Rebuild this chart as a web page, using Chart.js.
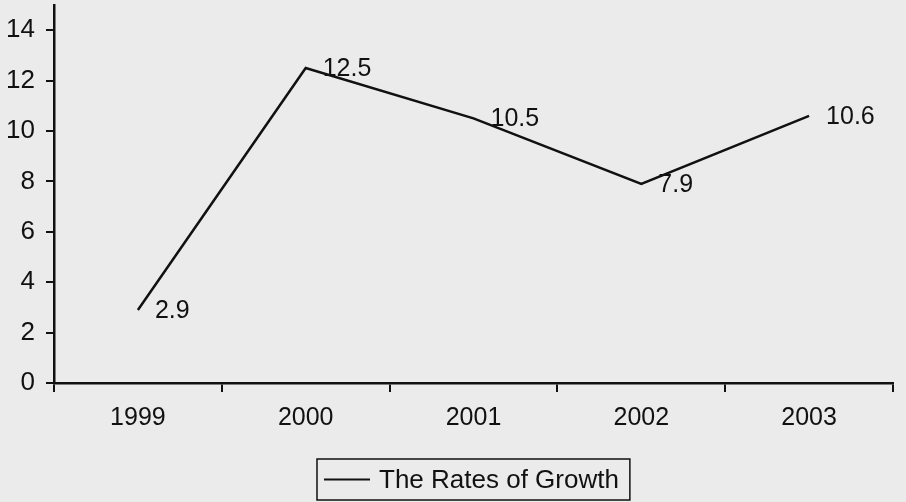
<!DOCTYPE html>
<html>
<head>
<meta charset="utf-8">
<script src="https://cdn.jsdelivr.net/npm/chart.js@4/dist/chart.umd.min.js"></script>
<style>
  html, body { margin: 0; padding: 0; background: #ebebeb; }
  #wrap { width: 906px; height: 502px; }
</style>
</head>
<body>
<div id="wrap"><canvas id="chart" width="906" height="502"></canvas></div>
<script>
const years = ['1999', '2000', '2001', '2002', '2003'];
const growthRates = [2.9, 12.5, 10.5, 7.9, 10.6];
const yTicks = [0, 2, 4, 6, 8, 10, 12, 14];
const seriesLabel = 'The Rates of Growth';

const FONT = 'Liberation Sans, Arial, Helvetica, sans-serif';
const INK = '#111';

// value next to each point, left-aligned a little to the right
const pointLabels = {
    id: 'pointLabels',
    afterDatasetsDraw(chart) {
        const ctx = chart.ctx;
        const meta = chart.getDatasetMeta(0);
        ctx.save();
        ctx.font = '25px ' + FONT;
        ctx.fillStyle = INK;
        ctx.textAlign = 'left';
        ctx.textBaseline = 'middle';
        meta.data.forEach((pt, i) => {
            ctx.fillText(String(growthRates[i]), pt.x + 17, pt.y + 1);
        });
        ctx.restore();
    }
};

// boxed legend under the plot, centred on the chart area
const boxedLegend = {
    id: 'boxedLegend',
    afterDraw(chart) {
        const ctx = chart.ctx;
        const area = chart.chartArea;
        ctx.save();
        ctx.font = '26px ' + FONT;
        const textW = ctx.measureText(seriesLabel).width;
        const sample = 46, gap = 9, padX = 7;
        const w = padX + sample + gap + textW + padX + 4;
        const h = 41;
        const x = Math.round((area.left + area.right) / 2 - w / 2);
        const y = 459;
        ctx.strokeStyle = INK;
        ctx.lineWidth = 1.5;
        ctx.strokeRect(x, y, w, h);
        ctx.lineWidth = 2;
        ctx.beginPath();
        ctx.moveTo(x + padX, y + h / 2);
        ctx.lineTo(x + padX + sample, y + h / 2);
        ctx.stroke();
        ctx.fillStyle = INK;
        ctx.textBaseline = 'middle';
        ctx.fillText(seriesLabel, x + padX + sample + gap, y + h / 2 + 1);
        ctx.restore();
    }
};

new Chart(document.getElementById('chart').getContext('2d'), {
    type: 'line',
    data: {
        labels: years,
        datasets: [{
            label: seriesLabel,
            data: growthRates,
            borderColor: INK,
            borderWidth: 2.5,
            pointRadius: 0,
            tension: 0,
            fill: false
        }]
    },
    options: {
        responsive: false,
        animation: false,
        layout: { padding: { top: 5, right: 13, left: 0, bottom: 0 } },
        plugins: {
            legend: { display: false },
            tooltip: { enabled: false }
        },
        scales: {
            x: {
                offset: true,
                grid: {
                    offset: true,
                    drawOnChartArea: false,
                    color: INK,
                    lineWidth: 2,
                    tickLength: 9
                },
                border: { color: INK, width: 2.5 },
                ticks: {
                    color: INK,
                    font: { family: FONT, size: 25 },
                    padding: 11,
                    maxRotation: 0
                },
                afterFit: s => { s.height = 119; }
            },
            y: {
                min: 0,
                max: 15,
                afterBuildTicks: s => {
                    s.ticks = yTicks.map(v => ({ value: v }));
                },
                grid: {
                    drawOnChartArea: false,
                    color: INK,
                    lineWidth: 2,
                    tickLength: 8
                },
                border: { color: INK, width: 2.5 },
                ticks: {
                    color: INK,
                    font: { family: FONT, size: 26 },
                    padding: 11
                },
                afterFit: s => {
                    s.width = 54;
                    s.paddingTop = 0;
                    s.paddingBottom = 0;
                }
            }
        }
    },
    plugins: [pointLabels, boxedLegend]
});
</script>
</body>
</html>
